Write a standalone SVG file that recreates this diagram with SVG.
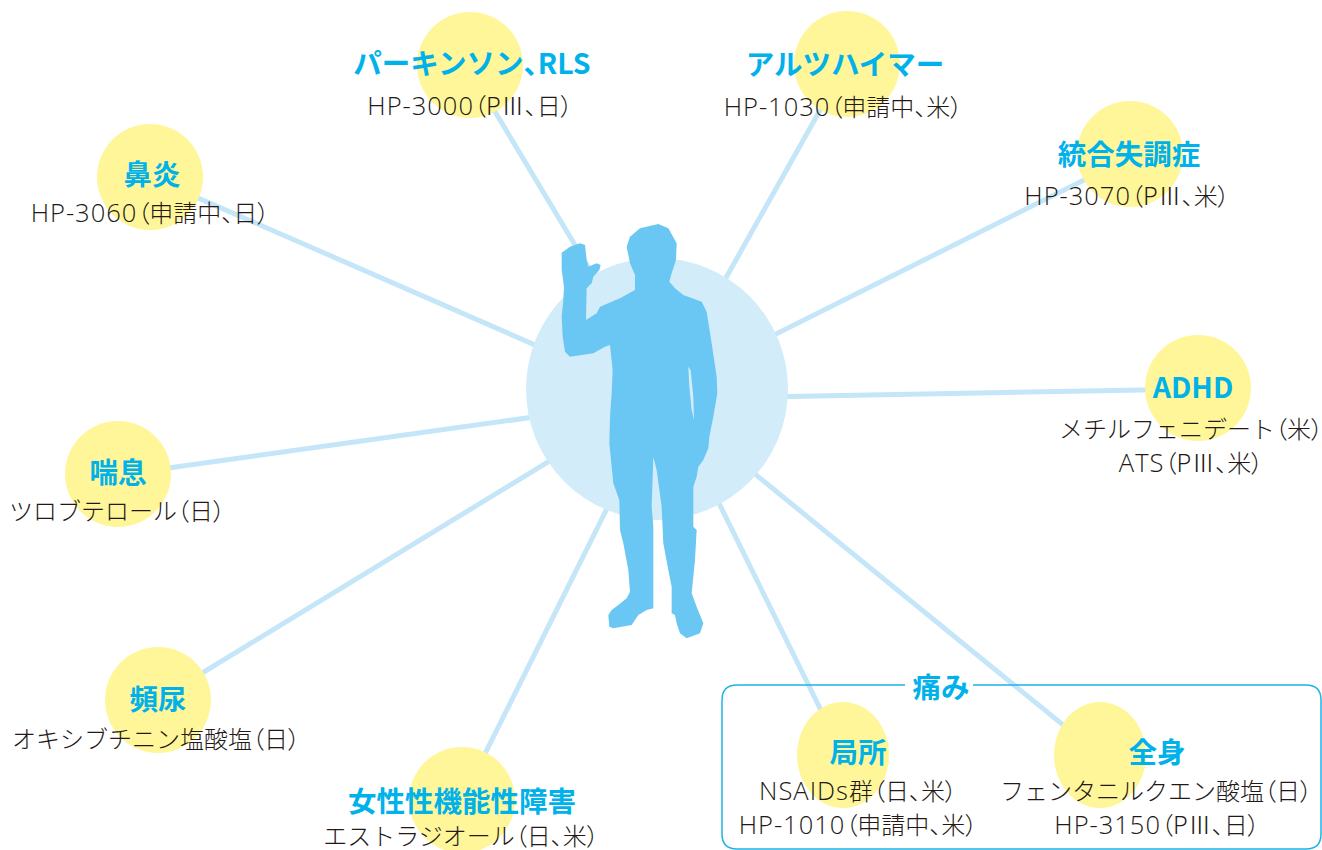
<svg xmlns="http://www.w3.org/2000/svg" width="1322" height="850" viewBox="0 0 1322 850">
  <style>
    .spoke { stroke: #c4e6f8; stroke-width: 5; stroke-linecap: butt; fill: none; }
    .bubble { fill: #fff699; }
    .title { font-family: "Noto Sans CJK JP", "Noto Sans", sans-serif; font-weight: 700; font-size: 28.5px; fill: #00b1ea; text-anchor: middle; }
    .sub { font-family: "Noto Sans CJK JP", "Noto Sans", sans-serif; font-weight: 300; font-size: 24px; fill: #231815; text-anchor: middle; }
    .p { font-feature-settings: "palt"; }
    .lat { font-family: "Open Sans", "Noto Sans", sans-serif; font-weight: 300; font-size: 25.5px; letter-spacing: 1px; }
    .frame { fill: none; stroke: #1fb2e6; stroke-width: 1.5; }
  </style>
  <rect width="1322" height="850" fill="#ffffff"/>

  <!-- spokes from the centre out to each indication -->
  <g id="connectors">
    <line class="spoke" x1="467" y1="65" x2="626" y2="330"/>
    <line class="spoke" x1="846" y1="64" x2="691" y2="340"/>
    <line class="spoke" x1="1130" y1="157" x2="700" y2="372"/>
    <line class="spoke" x1="1198" y1="389" x2="700" y2="398"/>
    <line class="spoke" x1="150" y1="177" x2="620" y2="382"/>
    <line class="spoke" x1="118" y1="475" x2="620" y2="405"/>
    <line class="spoke" x1="158" y1="700" x2="620" y2="418"/>
    <line class="spoke" x1="462" y1="800" x2="651" y2="420"/>
    <line class="spoke" x1="843" y1="755" x2="678" y2="420"/>
    <line class="spoke" x1="1100" y1="755" x2="680" y2="413"/>
  </g>

  <!-- central figure -->
  <g id="center">
    <circle cx="657" cy="389" r="131" fill="#d3ecfa"/>
    <g transform="translate(520,210) scale(0.3333)">
      <path fill="#6ac6f2" d="M125,128 L150,110 L180,100 L195,105 L200,150 L205,170 L230,160 L242,165 L238,180 L220,200 L215,220 L200,235 L198,330 L230,310 L240,290 L300,265 L345,240 L345,195 L330,160 L320,110 L330,80 L360,55 L415,42 L445,55 L470,100 L468,150 L455,190 L448,215 L465,235 L490,255 L545,275 L560,305 L575,400 L590,500 L592,550 L580,620 L568,680 L565,715 L550,750 L535,770 L530,800 L520,830 L520,950 L530,960 L525,1050 L520,1100 L515,1150 L530,1190 L550,1240 L540,1270 L500,1285 L480,1270 L470,1240 L465,1215 L455,1210 L455,1130 L445,1080 L430,1000 L425,890 L410,780 L400,740 L395,890 L400,950 L400,1195 L380,1200 L355,1215 L335,1245 L280,1255 L268,1250 L265,1215 L275,1200 L295,1185 L320,1165 L330,1145 L325,1080 L310,1000 L300,960 L298,870 L280,820 L275,770 L268,700 L270,620 L275,550 L278,480 L270,405 L255,410 L220,430 L150,440 L135,425 L128,380 L125,320 L130,270 L132,230 L125,180 Z"/>
      <path fill="#d3ecfa" d="M505,470 L512,480 L520,560 L522,630 L515,600 L508,530 Z"/>
    </g>
  </g>

  <!-- pain grouping frame -->
  <g id="pain-group">
    <path class="frame" d="M905,685 L737,685 Q722,685 722,700 L722,834 Q722,849 737,849 L1306,849 Q1321,849 1321,834 L1321,700 Q1321,685 1306,685 L973,685"/>
    <text class="title" x="941" y="698">痛み</text>
  </g>

  <g id="node-parkinson">
    <circle class="bubble" cx="470" cy="65" r="53"/>
    <text class="title" x="472" y="74">パーキンソン<tspan class="p">、</tspan>RLS</text>
    <text class="sub" x="470" y="115"><tspan class="lat">HP-3000</tspan><tspan class="p">（</tspan>PⅢ<tspan class="p">、</tspan>日<tspan class="p">）</tspan></text>
  </g>

  <g id="node-alzheimer">
    <circle class="bubble" cx="847" cy="64" r="53"/>
    <text class="title" x="845" y="75">アルツハイマー</text>
    <text class="sub" x="843" y="116"><tspan class="lat">HP-1030</tspan><tspan class="p">（</tspan>申請中<tspan class="p">、</tspan>米<tspan class="p">）</tspan></text>
  </g>

  <g id="node-schizophrenia">
    <circle class="bubble" cx="1130" cy="154" r="53"/>
    <text class="title" x="1129" y="165">統合失調症</text>
    <text class="sub" x="1127" y="205"><tspan class="lat">HP-3070</tspan><tspan class="p">（</tspan>PⅢ<tspan class="p">、</tspan>米<tspan class="p">）</tspan></text>
  </g>

  <g id="node-adhd">
    <circle class="bubble" cx="1198" cy="388" r="53"/>
    <text class="title" x="1193" y="398">ADHD</text>
    <text class="sub" x="1191" y="438">メチルフェニデート<tspan class="p">（</tspan>米<tspan class="p">）</tspan></text>
    <text class="sub" x="1191" y="472"><tspan class="lat">ATS</tspan><tspan class="p">（</tspan>PⅢ<tspan class="p">、</tspan>米<tspan class="p">）</tspan></text>
  </g>

  <g id="node-rhinitis">
    <circle class="bubble" cx="150" cy="177" r="53"/>
    <text class="title" x="152" y="185">鼻炎</text>
    <text class="sub" x="150" y="222"><tspan class="lat">HP-3060</tspan><tspan class="p">（</tspan>申請中<tspan class="p">、</tspan>日<tspan class="p">）</tspan></text>
  </g>

  <g id="node-asthma">
    <circle class="bubble" cx="118" cy="474" r="53"/>
    <text class="title" x="118" y="483">喘息</text>
    <text class="sub" x="117" y="520">ツロブテロール<tspan class="p">（</tspan>日<tspan class="p">）</tspan></text>
  </g>

  <g id="node-frequency">
    <circle class="bubble" cx="158" cy="700" r="53"/>
    <text class="title" x="158" y="710">頻尿</text>
    <text class="sub" x="156" y="748">オキシブチニン塩酸塩<tspan class="p">（</tspan>日<tspan class="p">）</tspan></text>
  </g>

  <g id="node-fsd">
    <circle class="bubble" cx="462" cy="800" r="53"/>
    <text class="title" x="462" y="812">女性性機能性障害</text>
    <text class="sub" x="461" y="845">エストラジオール<tspan class="p">（</tspan>日<tspan class="p">、</tspan>米<tspan class="p">）</tspan></text>
  </g>

  <g id="node-local">
    <ellipse class="bubble" cx="843" cy="755" rx="46" ry="53"/>
    <text class="title" x="858" y="763">局所</text>
    <text class="sub" x="858" y="800"><tspan class="lat">NSAIDs</tspan>群<tspan class="p">（</tspan>日<tspan class="p">、</tspan>米<tspan class="p">）</tspan></text>
    <text class="sub" x="858" y="834"><tspan class="lat">HP-1010</tspan><tspan class="p">（</tspan>申請中<tspan class="p">、</tspan>米<tspan class="p">）</tspan></text>
  </g>

  <g id="node-systemic">
    <ellipse class="bubble" cx="1100" cy="755" rx="46" ry="53"/>
    <text class="title" x="1157" y="763">全身</text>
    <text class="sub" x="1156" y="800">フェンタニルクエン酸塩<tspan class="p">（</tspan>日<tspan class="p">）</tspan></text>
    <text class="sub" x="1157" y="834"><tspan class="lat">HP-3150</tspan><tspan class="p">（</tspan>PⅢ<tspan class="p">、</tspan>日<tspan class="p">）</tspan></text>
  </g>
</svg>
